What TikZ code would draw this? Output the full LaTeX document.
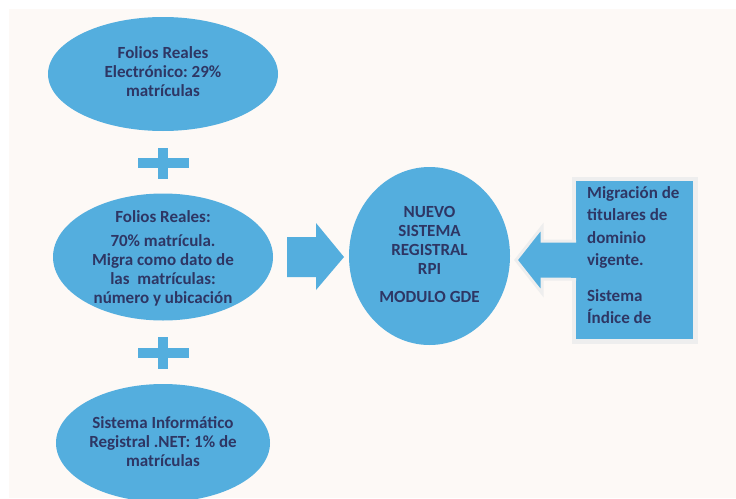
\documentclass[tikz,border=0pt]{standalone}
\usepackage{fontspec}
\setmainfont{Carlito}
\usetikzlibrary{shapes.geometric}
\frenchspacing
\definecolor{skyb}{RGB}{84,174,222}
\definecolor{inkc}{RGB}{46,54,100}
\definecolor{paper}{RGB}{253,249,246}
\definecolor{rimc}{RGB}{238,238,238}
\tikzset{
  blob/.style={ellipse, fill=skyb, draw=none, inner sep=0pt},
  txt/.style={align=center, text=inkc, font=\fontsize{17}{19}\selectfont\bfseries\frenchspacing, inner sep=0pt},
  plusbar/.style={fill=skyb, draw=none, inner sep=0pt},
}
\begin{document}
\begin{tikzpicture}[x=1pt,y=-1pt]
\useasboundingbox (0,0) rectangle (736,498);
\clip (0,0) rectangle (736,498);
\fill[white] (0,0) rectangle (736,498);
\fill[paper] (9,9) rectangle (736,498);

% ellipses
\node[blob, minimum width=230, minimum height=114] (e1) at (163,74) {};
\node[txt] (t1) at (163,72) {Folios Reales\\Electrónico: 29\%\\matrículas};

\node[blob, minimum width=220, minimum height=127] (e2) at (163,257) {};
\node[txt] (t2) at (163,258) {Folios Reales:\\[5pt]70\% matrícula.\\Migra como dato de\\las\ \ matrículas:\\número y ubicación};

\node[blob, minimum width=214, minimum height=118] (e3) at (163,443) {};
\node[txt] (t3) at (163,442) {Sistema Informático\\Registral .NET: 1\% de\\matrículas};

\node[blob, minimum width=161, minimum height=178] (ec) at (429.5,256) {};
\node[txt] (tc) at (429.5,254) {NUEVO\\SISTEMA\\REGISTRAL\\RPI\\[9pt]MODULO GDE};

% plus signs
\node[plusbar, minimum width=51, minimum height=10] (p1h) at (163,163) {};
\node[plusbar, minimum width=10, minimum height=31] (p1v) at (163,163) {};
\node[plusbar, minimum width=51, minimum height=10] (p2h) at (163,353) {};
\node[plusbar, minimum width=10, minimum height=32] (p2v) at (163,353) {};

% right box with light frame
\node[fill=rimc, minimum width=126, minimum height=167, inner sep=0pt, anchor=north west] (frame) at (572,177) {};
\node[fill=skyb, minimum width=117, minimum height=158, inner sep=0pt, anchor=north west] (box) at (576,181) {};
\node[txt, align=left, anchor=north west, font=\fontsize{17}{22.5}\selectfont\bfseries] (tb) at (587,186) {Migración de\\titulares de\\dominio\\vigente.\\[13pt]Sistema\\Índice de};

% arrow into center ellipse from left
\coordinate (a1s) at (287,257);
\fill[skyb] (a1s) ++(0,-20) -- ++(29,0) -- ++(0,-14) -- (344,257) -- (316,290) -- (316,277) -- (287,277) -- cycle;

% arrow from box to center ellipse
\coordinate (a2tip) at (516,260);
\filldraw[fill=skyb, draw=rimc, line width=3pt, line join=miter] (box.west |- 0,241) -- (542,241) -- (542,227) -- (a2tip) -- (542,293) -- (542,279) -- (box.west |- 0,279);
\fill[skyb] (571,242.5) rectangle (578,277.5);
\end{tikzpicture}
\end{document}
